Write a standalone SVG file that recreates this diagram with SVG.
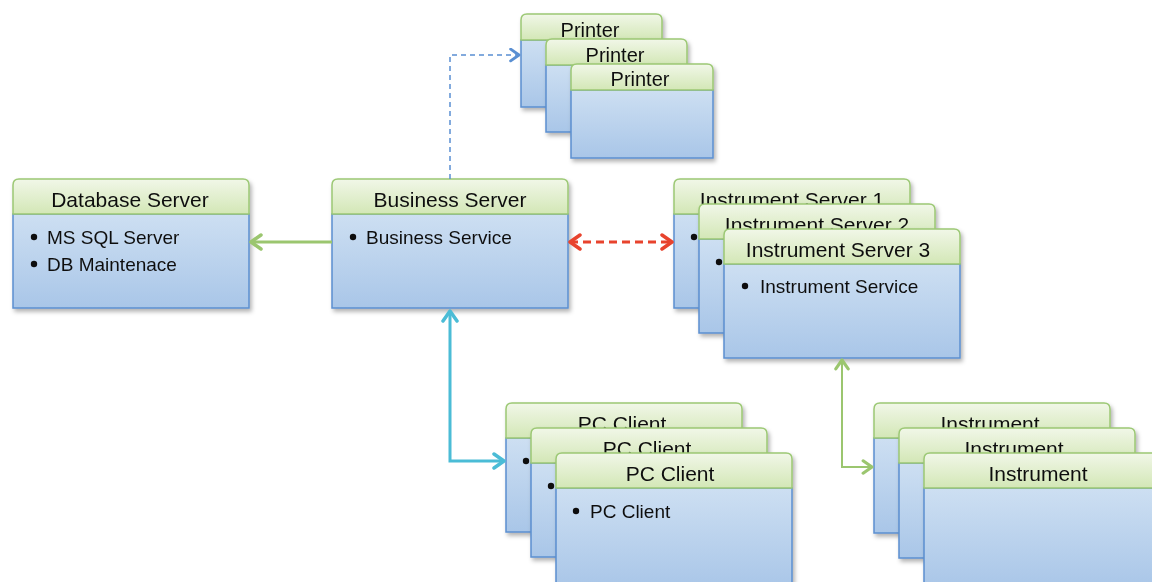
<svg xmlns="http://www.w3.org/2000/svg" width="1152" height="582" viewBox="0 0 1152 582">
<defs>
<linearGradient id="hg" x1="0" y1="0" x2="0" y2="1">
<stop offset="0" stop-color="#f1f7e8"/><stop offset="1" stop-color="#d3e7b6"/>
</linearGradient>
<linearGradient id="bg" x1="0" y1="0" x2="0" y2="1">
<stop offset="0" stop-color="#cddff2"/><stop offset="1" stop-color="#a9c6e8"/>
</linearGradient>
<filter id="sh" x="-10%" y="-10%" width="125%" height="130%">
<feDropShadow dx="2" dy="3" stdDeviation="2" flood-color="#000" flood-opacity="0.3"/>
</filter>
<marker id="mGreen" viewBox="0 0 14 18" refX="12" refY="9" markerWidth="14" markerHeight="18" markerUnits="userSpaceOnUse" orient="auto-start-reverse">
<path d="M2,2 L12,9 L2,16" fill="none" stroke="#9bc66f" stroke-width="3.5" stroke-linecap="round" stroke-linejoin="round"/>
</marker>
<marker id="mGreenT" viewBox="0 0 14 18" refX="12" refY="9" markerWidth="13" markerHeight="16" markerUnits="userSpaceOnUse" orient="auto-start-reverse">
<path d="M2,2 L12,9 L2,16" fill="none" stroke="#9bc66f" stroke-width="3.5" stroke-linecap="round" stroke-linejoin="round"/>
</marker>
<marker id="mRed" viewBox="0 0 14 18" refX="12" refY="9" markerWidth="14" markerHeight="18" markerUnits="userSpaceOnUse" orient="auto-start-reverse">
<path d="M2,2 L12,9 L2,16" fill="none" stroke="#e8432d" stroke-width="3.5" stroke-linecap="round" stroke-linejoin="round"/>
</marker>
<marker id="mCyan" viewBox="0 0 14 18" refX="12" refY="9" markerWidth="14" markerHeight="18" markerUnits="userSpaceOnUse" orient="auto-start-reverse">
<path d="M2,2 L12,9 L2,16" fill="none" stroke="#4bbcd6" stroke-width="3.5" stroke-linecap="round" stroke-linejoin="round"/>
</marker>
<marker id="mBlue" viewBox="0 0 14 18" refX="12" refY="9" markerWidth="12" markerHeight="15" markerUnits="userSpaceOnUse" orient="auto-start-reverse">
<path d="M2,2 L12,9 L2,16" fill="none" stroke="#5a8fd2" stroke-width="3.5" stroke-linecap="round" stroke-linejoin="round"/>
</marker>
</defs>
<style>
.hd{fill:url(#hg);stroke:#9cc874;stroke-width:1.5}
.bd{fill:url(#bg);stroke:#5b8fd0;stroke-width:1.5}
.ht{font-family:"Liberation Sans",Arial,sans-serif;font-size:21px;fill:#111;text-anchor:middle}
.pt{font-family:"Liberation Sans",Arial,sans-serif;font-size:20px;fill:#111;text-anchor:middle}
.bt{font-family:"Liberation Sans",Arial,sans-serif;font-size:19px;fill:#111}
.dot{fill:#111}
</style>

<g id="printer1" filter="url(#sh)">
<rect class="bd" x="521" y="40" width="141" height="67"/>
<path class="hd" d="M521,40 V20 Q521,14 527,14 H656 Q662,14 662,20 V40 Z"/>
<text class="pt" x="590" y="37">Printer</text>
</g>
<g id="printer2" filter="url(#sh)">
<rect class="bd" x="546" y="65" width="141" height="67"/>
<path class="hd" d="M546,65 V45 Q546,39 552,39 H681 Q687,39 687,45 V65 Z"/>
<text class="pt" x="615" y="62">Printer</text>
</g>
<g id="printer3" filter="url(#sh)">
<rect class="bd" x="571" y="90" width="142" height="68"/>
<path class="hd" d="M571,90 V70 Q571,64 577,64 H707 Q713,64 713,70 V90 Z"/>
<text class="pt" x="640" y="86">Printer</text>
</g>

<g id="database-server" filter="url(#sh)">
<rect class="bd" x="13" y="214" width="236" height="94"/>
<path class="hd" d="M13,214 V185 Q13,179 19,179 H243 Q249,179 249,185 V214 Z"/>
<text class="ht" x="130" y="207">Database Server</text>
<circle class="dot" cx="34" cy="237" r="3.2"/>
<text class="bt" x="47" y="244">MS SQL Server</text>
<circle class="dot" cx="34" cy="264" r="3.2"/>
<text class="bt" x="47" y="271">DB Maintenace</text>
</g>

<g id="business-server" filter="url(#sh)">
<rect class="bd" x="332" y="214" width="236" height="94"/>
<path class="hd" d="M332,214 V185 Q332,179 338,179 H562 Q568,179 568,185 V214 Z"/>
<text class="ht" x="450" y="207">Business Server</text>
<circle class="dot" cx="353" cy="237" r="3.2"/>
<text class="bt" x="366" y="244">Business Service</text>
</g>

<g id="instrument-server-1" filter="url(#sh)">
<rect class="bd" x="674" y="214" width="236" height="94"/>
<path class="hd" d="M674,214 V185 Q674,179 680,179 H904 Q910,179 910,185 V214 Z"/>
<text class="ht" x="792" y="207">Instrument Server 1</text>
<circle class="dot" cx="694" cy="237" r="3.2"/>
</g>
<g id="instrument-server-2" filter="url(#sh)">
<rect class="bd" x="699" y="239" width="236" height="94"/>
<path class="hd" d="M699,239 V210 Q699,204 705,204 H929 Q935,204 935,210 V239 Z"/>
<text class="ht" x="817" y="232">Instrument Server 2</text>
<circle class="dot" cx="719" cy="262" r="3.2"/>
</g>
<g id="instrument-server-3" filter="url(#sh)">
<rect class="bd" x="724" y="264" width="236" height="94"/>
<path class="hd" d="M724,264 V235 Q724,229 730,229 H954 Q960,229 960,235 V264 Z"/>
<text class="ht" x="838" y="257">Instrument Server 3</text>
<circle class="dot" cx="745" cy="286" r="3.2"/>
<text class="bt" x="760" y="293">Instrument Service</text>
</g>

<g id="pc-client-1" filter="url(#sh)">
<rect class="bd" x="506" y="438" width="236" height="94"/>
<path class="hd" d="M506,438 V409 Q506,403 512,403 H736 Q742,403 742,409 V438 Z"/>
<text class="ht" x="622" y="431">PC Client</text>
<circle class="dot" cx="526" cy="461" r="3.2"/>
</g>
<g id="pc-client-2" filter="url(#sh)">
<rect class="bd" x="531" y="463" width="236" height="94"/>
<path class="hd" d="M531,463 V434 Q531,428 537,428 H761 Q767,428 767,434 V463 Z"/>
<text class="ht" x="647" y="456">PC Client</text>
<circle class="dot" cx="551" cy="486" r="3.2"/>
</g>
<g id="pc-client-3" filter="url(#sh)">
<rect class="bd" x="556" y="488" width="236" height="100"/>
<path class="hd" d="M556,488 V459 Q556,453 562,453 H786 Q792,453 792,459 V488 Z"/>
<text class="ht" x="670" y="481">PC Client</text>
<circle class="dot" cx="576" cy="511" r="3.2"/>
<text class="bt" x="590" y="518">PC Client</text>
</g>

<g id="instrument-1" filter="url(#sh)">
<rect class="bd" x="874" y="438" width="236" height="95"/>
<path class="hd" d="M874,438 V409 Q874,403 880,403 H1104 Q1110,403 1110,409 V438 Z"/>
<text class="ht" x="990" y="431">Instrument</text>
</g>
<g id="instrument-2" filter="url(#sh)">
<rect class="bd" x="899" y="463" width="236" height="95"/>
<path class="hd" d="M899,463 V434 Q899,428 905,428 H1129 Q1135,428 1135,434 V463 Z"/>
<text class="ht" x="1014" y="456">Instrument</text>
</g>
<g id="instrument-3" filter="url(#sh)">
<rect class="bd" x="924" y="488" width="236" height="100"/>
<path class="hd" d="M924,488 V459 Q924,453 930,453 H1154 Q1160,453 1160,459 V488 Z"/>
<text class="ht" x="1038" y="481">Instrument</text>
</g>

<g id="connectors" fill="none">
<line x1="332" y1="242" x2="251" y2="242" stroke="#9bc66f" stroke-width="3" marker-end="url(#mGreen)"/>
<path d="M450,179 V55 H519" stroke="#5a8fd2" stroke-width="1.5" stroke-dasharray="5,4" marker-end="url(#mBlue)"/>
<line x1="570" y1="242" x2="672" y2="242" stroke="#e8432d" stroke-width="3" stroke-dasharray="8,5" marker-start="url(#mRed)" marker-end="url(#mRed)"/>
<path d="M450,311 V461 H504" stroke="#4bbcd6" stroke-width="3" marker-start="url(#mCyan)" marker-end="url(#mCyan)"/>
<path d="M842,360 V467 H872" stroke="#9bc66f" stroke-width="2" marker-start="url(#mGreenT)" marker-end="url(#mGreenT)"/>
</g>
</svg>
